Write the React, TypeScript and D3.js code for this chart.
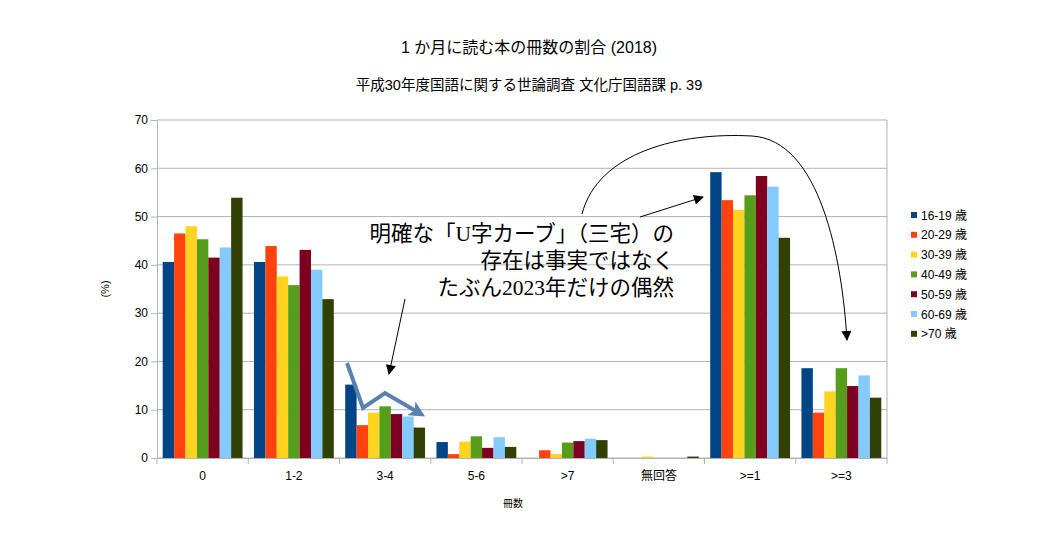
import React, { useEffect, useRef } from 'react';
import * as d3 from 'd3';

// 冊数カテゴリ
const categories = ['0', '1-2', '3-4', '5-6', '>7', '無回答', '>=1', '>=3'];
const seriesNames = ['16-19 歳', '20-29 歳', '30-39 歳', '40-49 歳', '50-59 歳', '60-69 歳', '>70 歳'];
const seriesColors = ['#004586', '#ff420e', '#ffd320', '#579d1c', '#7e0021', '#83caff', '#314004'];

// 各年代の値 (%) : カテゴリ順
const age16_19 = [40.6, 40.6, 15.2, 3.3, 0, 0, 59.2, 18.6];
const age20_29 = [46.5, 43.9, 6.8, 0.8, 1.6, 0, 53.4, 9.4];
const age30_39 = [48.0, 37.6, 9.4, 3.4, 0.8, 0.3, 51.4, 13.8];
const age40_49 = [45.3, 35.8, 10.7, 4.5, 3.2, 0, 54.4, 18.6];
const age50_59 = [41.5, 43.1, 9.1, 2.1, 3.5, 0, 58.4, 14.9];
const age60_69 = [43.6, 39.0, 8.6, 4.3, 4.0, 0, 56.2, 17.1];
const age70 = [53.9, 32.9, 6.3, 2.3, 3.7, 0.3, 45.6, 12.5];
const seriesValues = [age16_19, age20_29, age30_39, age40_49, age50_59, age60_69, age70];

const yTicks = [0, 10, 20, 30, 40, 50, 60, 70];

const noteLines = ['明確な「U字カーブ」（三宅）の', '存在は事実ではなく', 'たぶん2023年だけの偶然'];

const W = 1058, H = 548;
const margin = { top: 120, right: 171, bottom: 90, left: 157 };

const sansJP = '"Liberation Sans", Arial, "Noto Sans CJK JP", sans-serif';

const App: React.FC = () => {
  const ref = useRef<SVGSVGElement>(null);

  useEffect(() => {
    if (!ref.current) return;
    const svg = d3.select(ref.current);
    svg.selectAll('*').remove();

    const width = W - margin.left - margin.right;
    const height = H - margin.top - margin.bottom;

    const defs = svg.append('defs');
    defs.append('marker')
      .attr('id', 'blackHead')
      .attr('viewBox', '0 0 10 10')
      .attr('refX', 9).attr('refY', 5)
      .attr('markerWidth', 14).attr('markerHeight', 10)
      .attr('markerUnits', 'userSpaceOnUse')
      .attr('orient', 'auto')
      .append('path').attr('d', 'M0,0 L10,5 L0,10 Z').attr('fill', '#000');
    defs.append('marker')
      .attr('id', 'blueHead')
      .attr('viewBox', '0 0 10 10')
      .attr('refX', 7).attr('refY', 5)
      .attr('markerWidth', 20).attr('markerHeight', 16)
      .attr('markerUnits', 'userSpaceOnUse')
      .attr('orient', 'auto')
      .append('path').attr('d', 'M0,0 L10,5 L0,10 L2.5,5 Z').attr('fill', '#5a7fb3');

    svg.append('rect').attr('width', W).attr('height', H).attr('fill', '#fff');

    // タイトル
    svg.append('text')
      .attr('x', W / 2).attr('y', 53)
      .attr('text-anchor', 'middle')
      .style('font-family', sansJP).style('font-size', '16px')
      .text('1 か月に読む本の冊数の割合  (2018)');
    svg.append('text')
      .attr('x', W / 2).attr('y', 90)
      .attr('text-anchor', 'middle')
      .style('font-family', sansJP).style('font-size', '14.5px')
      .text('平成30年度国語に関する世論調査 文化庁国語課  p. 39');

    const g = svg.append('g').attr('transform', `translate(${margin.left},${margin.top})`);

    const x0 = d3.scaleBand().domain(categories).range([0, width]).padding(0);
    const x1 = d3.scaleBand<number>()
      .domain(d3.range(seriesNames.length))
      .range([0, x0.bandwidth()])
      .paddingInner(0).paddingOuter(0.5);
    const y = d3.scaleLinear().domain([0, 70]).range([height, 0]);

    // グリッド線
    g.append('g').selectAll('line').data(yTicks).enter().append('line')
      .attr('x1', 0).attr('x2', width)
      .attr('y1', d => y(d)).attr('y2', d => y(d))
      .attr('stroke', '#b3b3b3').attr('stroke-width', 1);
    g.append('line').attr('x1', width).attr('x2', width).attr('y1', 0).attr('y2', height)
      .attr('stroke', '#b3b3b3');

    // 棒
    const groups = g.append('g').selectAll('g').data(categories).enter().append('g')
      .attr('transform', d => `translate(${x0(d)},0)`);
    groups.selectAll('rect')
      .data((_, ci) => seriesValues.map((vals, si) => ({ si, v: vals[ci] })))
      .enter().append('rect')
      .attr('x', d => x1(d.si) as number)
      .attr('width', x1.bandwidth())
      .attr('y', d => y(d.v))
      .attr('height', d => height - y(d.v))
      .attr('fill', d => seriesColors[d.si]);

    // Y軸
    const yAxis = g.append('g').call(d3.axisLeft(y).tickValues(yTicks).tickSize(6).tickPadding(3));
    yAxis.select('.domain').attr('stroke', '#b3b3b3');
    yAxis.selectAll('.tick line').attr('stroke', '#b3b3b3');
    yAxis.selectAll('.tick text')
      .style('font-family', sansJP).style('font-size', '12px').attr('fill', '#000');

    // X軸
    const xAxis = g.append('g').attr('transform', `translate(0,${height})`)
      .call(d3.axisBottom(x0).tickSize(0).tickPadding(13));
    xAxis.select('.domain').attr('stroke', '#b3b3b3');
    xAxis.selectAll('.tick text')
      .style('font-family', sansJP).style('font-size', '12px').attr('fill', '#000');
    g.append('g').selectAll('line').data(d3.range(categories.length + 1)).enter().append('line')
      .attr('x1', i => i * x0.step()).attr('x2', i => i * x0.step())
      .attr('y1', height).attr('y2', height + 6)
      .attr('stroke', '#b3b3b3');

    // 軸タイトル
    svg.append('text')
      .attr('transform', `translate(109,${margin.top + height / 2}) rotate(-90)`)
      .attr('text-anchor', 'middle')
      .style('font-family', sansJP).style('font-size', '11px')
      .text('(%)');
    svg.append('text')
      .attr('x', 513).attr('y', 507)
      .attr('text-anchor', 'middle')
      .style('font-family', sansJP).style('font-size', '10px')
      .text('冊数');

    // 凡例
    const legend = svg.append('g').attr('transform', 'translate(911,215)');
    seriesNames.forEach((name, i) => {
      const row = legend.append('g').attr('transform', `translate(0,${i * 19.8})`);
      row.append('rect').attr('x', 0).attr('y', -3).attr('width', 6).attr('height', 6)
        .attr('fill', seriesColors[i]);
      row.append('text').attr('x', 10).attr('y', 4.5)
        .style('font-family', sansJP).style('font-size', '12px')
        .text(name);
    });

    // 注記テキスト
    const note = svg.append('text')
      .attr('text-anchor', 'end')
      .style('font-family', '"Liberation Serif", "Noto Sans CJK JP", serif')
      .style('font-size', '21.5px');
    noteLines.forEach((line, i) => {
      note.append('tspan').attr('x', 674).attr('y', 241 + i * 27).text(line);
    });

    // 矢印
    svg.append('path').attr('d', 'M405,299 L389,374')
      .attr('stroke', '#000').attr('stroke-width', 1).attr('fill', 'none')
      .attr('marker-end', 'url(#blackHead)');
    svg.append('path').attr('d', 'M640,217 L703,197')
      .attr('stroke', '#000').attr('stroke-width', 1).attr('fill', 'none')
      .attr('marker-end', 'url(#blackHead)');
    svg.append('path').attr('d', 'M582,214 C598,152 680,132 752,136 C820,140 842,258 847,340')
      .attr('stroke', '#000').attr('stroke-width', 1).attr('fill', 'none')
      .attr('marker-end', 'url(#blackHead)');
    svg.append('path').attr('d', 'M347,363 L363,408 L385,393 L421,414')
      .attr('stroke', '#5a7fb3').attr('stroke-width', 4).attr('fill', 'none')
      .attr('stroke-linejoin', 'miter')
      .attr('marker-end', 'url(#blueHead)');
  }, []);

  return (
    <svg ref={ref} width={W} height={H} style={{ position: 'absolute', left: 0, top: 0 }} />
  );
};

export default App;
